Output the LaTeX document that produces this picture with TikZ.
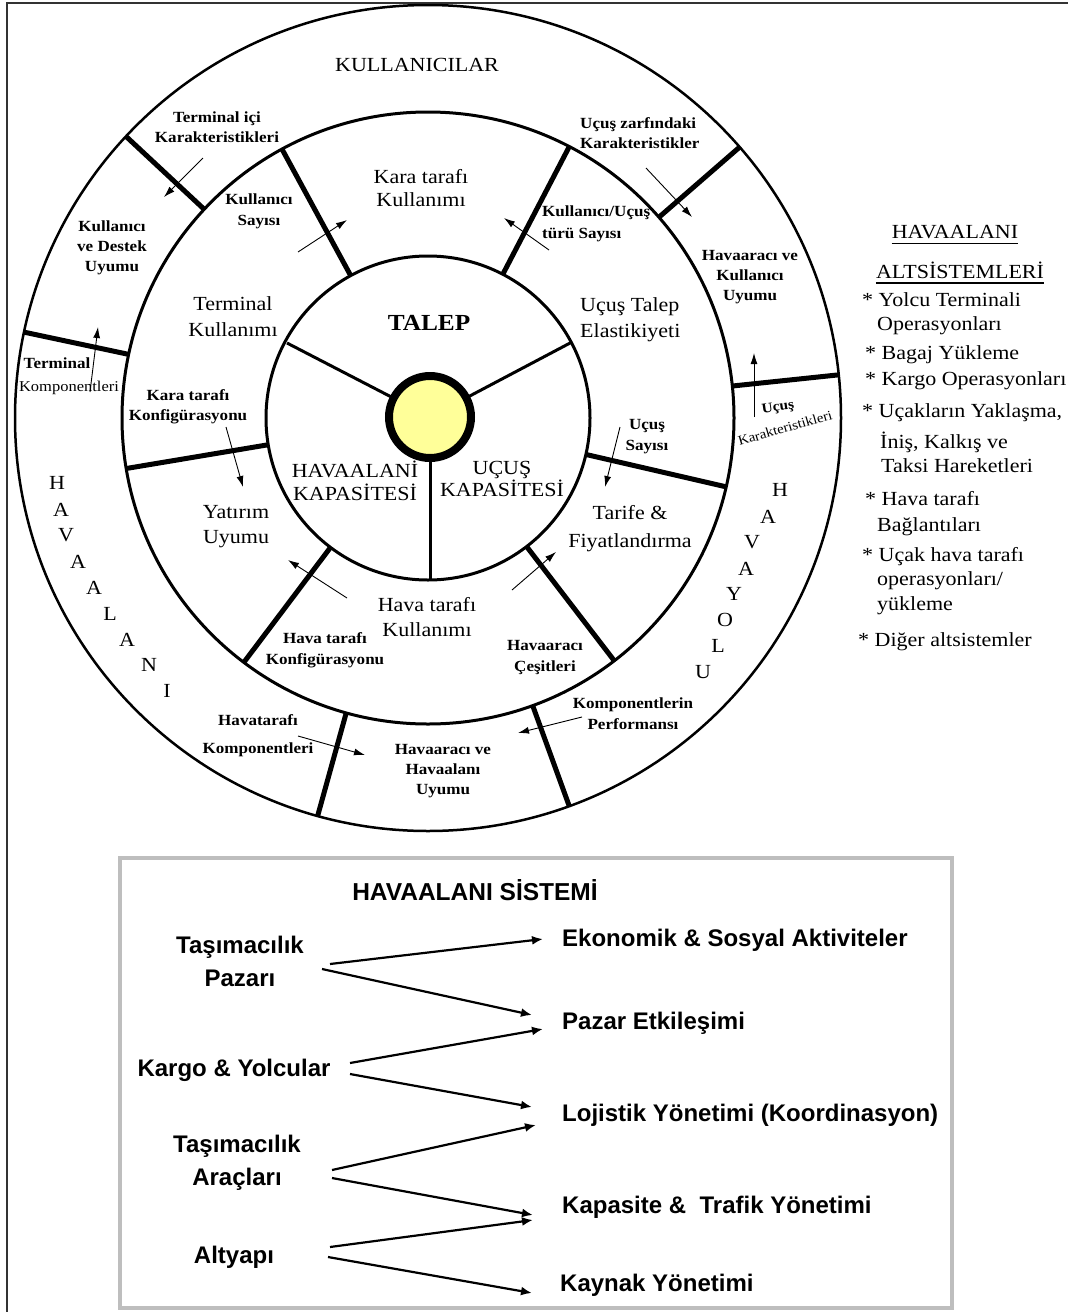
\documentclass[tikz,border=0pt]{standalone}
\usepackage{fontspec}
\setmainfont{Liberation Serif}
\newfontfamily\wideserif[FakeStretch=1.1]{Liberation Serif}
\newfontfamily\boxsans{Liberation Sans}
\usetikzlibrary{arrows.meta}
\definecolor{sunyellow}{RGB}{255,255,153}
\definecolor{boxgray}{RGB}{190,190,190}

\begin{document}
\begin{tikzpicture}[x=1pt,y=-1pt,
  outerline/.style={line width=2.5pt},
  ringline/.style={line width=3pt},
  thickspoke/.style={line width=5pt},
  hubspoke/.style={line width=3pt},
  thinarrow/.style={line width=0.9pt,-{Latex[length=11pt,width=7pt]}},
  boxarrow/.style={line width=2.2pt,-{Latex[length=11pt,width=9pt]}},
  smallbold/.style={font=\wideserif\bfseries\fontsize{15.5}{#1}\selectfont, align=center, inner sep=0pt},
  smallbold/.default=20,
  biglabel/.style={font=\wideserif\fontsize{20}{#1}\selectfont, align=center, inner sep=0pt},
  biglabel/.default=25,
  letter/.style={font=\wideserif\fontsize{20}{24}\selectfont, inner sep=0pt},
  listitem/.style={font=\wideserif\fontsize{20}{24}\selectfont, anchor=west, inner sep=0pt},
  boxtext/.style={font=\boxsans\bfseries\fontsize{24}{33}\selectfont, inner sep=0pt, align=center},
]
\useasboundingbox (0,0) rectangle (1068,1312);

% page frame (top and left edges)
\draw[line width=1.5pt, black!80] (7,1312) -- (7,3) -- (1068,3);

% ---------------- ring diagram ----------------
\coordinate (C) at (428,418);
\coordinate (S) at (430,417);

% thick dividers of the middle ring
\foreach \a in {118.5,62.5,189.5,233,347,307.5}
  \draw[thickspoke] ([shift={(-\a:162)}]C) -- ([shift={(-\a:306)}]C);
% thick dividers of the outer ring
\foreach \a in {137,168,41,6,254.5,290}
  \draw[thickspoke] ([shift={(-\a:306)}]C) -- ([shift={(-\a:413)}]C);

% hub spokes
\draw[hubspoke] (S) -- (287,343);
\draw[hubspoke] (S) -- (572,342);
\draw[hubspoke] (S) -- (430,581);

% circles
\draw[outerline] (C) circle[radius=413];
\draw[ringline] (C) circle[radius=306];
\draw[ringline] (C) circle[radius=162];

% the sun in the middle
\node[circle, draw, line width=8pt, fill=sunyellow, minimum size=82pt, inner sep=0pt] (sun) at (S) {};

% outer ring titles
\node[font=\wideserif\fontsize{20}{24}\selectfont, inner sep=0pt] (users) at (417,65) {KULLANICILAR};

% vertical letters: HAVAALANI
\node[letter] (l1) at (57,483) {H};
\node[letter] (l2) at (61,510) {A};
\node[letter] (l3) at (66,535) {V};
\node[letter] (l4) at (78,562) {A};
\node[letter] (l5) at (94,588) {A};
\node[letter] (l6) at (110,614) {L};
\node[letter] (l7) at (127,640) {A};
\node[letter] (l8) at (149,665) {N};
\node[letter] (l9) at (167,691) {I};
% vertical letters: HAVAYOLU
\node[letter] (r1) at (780,490) {H};
\node[letter] (r2) at (768,517) {A};
\node[letter] (r3) at (752,542) {V};
\node[letter] (r4) at (746,569) {A};
\node[letter] (r5) at (734,594) {Y};
\node[letter] (r6) at (725,620) {O};
\node[letter] (r7) at (718,646) {L};
\node[letter] (r8) at (703,672) {U};

% outer ring labels
\node[smallbold] (tic) at (217,127) {Terminal içi\\Karakteristikleri};
\node[smallbold] (kdu) at (112,248) {Kullanıcı\\ve Destek\\Uyumu};
\node[smallbold, align=left, anchor=west] (uzk) at (580,133) {Uçuş zarfındaki\\Karakteristikler};
\node[smallbold] (hku) at (750,277) {Havaaracı ve\\Kullanıcı\\Uyumu};
\node[smallbold] (term) at (57,363) {Terminal};
\node[font=\wideserif\fontsize{15}{18}\selectfont, inner sep=0pt] (tkomp) at (69,388) {Komponentleri};
\node[font=\wideserif\bfseries\fontsize{14}{16}\selectfont, inner sep=0pt, rotate=8] (ucus) at (778,408) {Uçuş};
\node[font=\wideserif\fontsize{13.5}{16}\selectfont, inner sep=0pt, rotate=16] (ukar) at (785,428) {Karakteristikleri};
\node[smallbold=28] (hkomp) at (258,736) {Havatarafı\\Komponentleri};
\node[smallbold] (hhu) at (443,771) {Havaaracı ve\\Havaalanı\\Uyumu};
\node[smallbold=21] (kperf) at (633,714) {Komponentlerin\\Performansı};

% middle ring labels
\node[biglabel=23] (ktk) at (421,188) {Kara tarafı\\Kullanımı};
\node[biglabel=26] (tk) at (233,317) {Terminal\\Kullanımı};
\node[biglabel=26, align=left, anchor=west] (ute) at (580,320) {Uçuş Talep\\Elastikiyeti};
\node[biglabel=25] (yu) at (236,527) {Yatırım\\Uyumu};
\node[biglabel=28] (tf) at (630,529) {Tarife \&\\Fiyatlandırma};
\node[biglabel=25] (htk) at (427,617) {Hava tarafı\\Kullanımı};
\node[smallbold=21] (ks) at (259,211) {Kullanıcı\\Sayısı};
\node[smallbold=22, align=left, anchor=west] (kus) at (542,224) {Kullanıcı/Uçuş\\türü Sayısı};
\node[smallbold] (ktkonf) at (188,407) {Kara tarafı\\Konfigürasyonu};
\node[smallbold=21] (us) at (647,437) {Uçuş\\Sayısı};
\node[smallbold=21] (hkonf) at (325,650) {Hava tarafı\\Konfigürasyonu};
\node[smallbold=21] (hc) at (545,658) {Havaaracı\\Çeşitleri};

% hub labels
\node[font=\wideserif\bfseries\fontsize{23}{27}\selectfont, inner sep=0pt] (talep) at (429,323) {TALEP};
\node[biglabel=23] (hkap) at (355,481) {HAVAALANİ\\KAPASİTESİ};
\node[biglabel=22] (ukap) at (502,479) {UÇUŞ\\KAPASİTESİ};

% influence arrows inside the rings
\coordinate (a1s) at (203,158);  \coordinate (a1e) at (164,197);
\coordinate (a2s) at (298,252);  \coordinate (a2e) at (347,220);
\coordinate (a3s) at (549,250);  \coordinate (a3e) at (504,218);
\coordinate (a4s) at (646,168);  \coordinate (a4e) at (692,217);
\coordinate (a5s) at (90,392);   \coordinate (a5e) at (98,327);
\coordinate (a6s) at (754,417);  \coordinate (a6e) at (754,353);
\coordinate (a7s) at (226,427);  \coordinate (a7e) at (243,487);
\coordinate (a8s) at (620,427);  \coordinate (a8e) at (605,487);
\coordinate (a9s) at (347,598);  \coordinate (a9e) at (288,560);
\coordinate (a10s) at (512,590); \coordinate (a10e) at (556,552);
\coordinate (a11s) at (298,736); \coordinate (a11e) at (365,755);
\coordinate (a12s) at (582,717); \coordinate (a12e) at (518,733);
\foreach \i in {1,...,12}
  \draw[thinarrow] (a\i s) -- (a\i e);

% ---------------- subsystem list ----------------
\node[font=\wideserif\fontsize{20}{24}\selectfont, inner sep=0pt] (sub1) at (955,232) {HAVAALANI};
\node[font=\wideserif\fontsize{20}{24}\selectfont, inner sep=0pt] (sub2) at (960,270) {ALTSİSTEMLERİ};
\draw[line width=1.6pt] ([yshift=-5pt]sub1.base west) -- ([yshift=-5pt]sub1.base east);
\draw[line width=1.6pt] ([yshift=-5pt]sub2.base west) -- ([yshift=-5pt]sub2.base east);
\node[listitem] (s1) at (862,300) {* Yolcu Terminali};
\node[listitem] (s2) at (877,326) {Operasyonları};
\node[listitem] (s3) at (865,355) {* Bagaj Yükleme};
\node[listitem] (s4) at (865,381) {* Kargo Operasyonları};
\node[listitem] (s5) at (862,413) {* Uçakların Yaklaşma,};
\node[listitem] (s6) at (880,442) {İniş, Kalkış ve};
\node[listitem] (s7) at (881,466) {Taksi Hareketleri};
\node[listitem] (s8) at (865,499) {* Hava tarafı};
\node[listitem] (s9) at (877,527) {Bağlantıları};
\node[listitem] (s10) at (862,557) {* Uçak hava tarafı};
\node[listitem] (s11) at (877,581) {operasyonları/};
\node[listitem] (s12) at (877,606) {yükleme};
\node[listitem] (s13) at (858,642) {* Diğer altsistemler};

% ---------------- airport system box ----------------
\draw[line width=3.5pt, boxgray] (120,858) rectangle (952,1308);
\node[boxtext, font=\boxsans\bfseries\fontsize{24.5}{30}\selectfont] (sys) at (475,890) {HAVAALANI SİSTEMİ};

\node[boxtext] (tpaz) at (240,961) {Taşımacılık\\Pazarı};
\node[boxtext] (kyol) at (234,1070) {Kargo \& Yolcular};
\node[boxtext] (tara) at (237,1163) {Taşımacılık\\Araçları};
\node[boxtext] (alt) at (234,1257) {Altyapı};

\node[boxtext, anchor=west] (eko) at (562,940) {Ekonomik \& Sosyal Aktiviteler};
\node[boxtext, anchor=west] (paz) at (562,1023) {Pazar Etkileşimi};
\node[boxtext, anchor=west] (loj) at (562,1115) {Lojistik Yönetimi (Koordinasyon)};
\node[boxtext, anchor=west] (kap) at (562,1207) {Kapasite \& \ Trafik Yönetimi};
\node[boxtext, anchor=west] (kay) at (560,1285) {Kaynak Yönetimi};

\coordinate (b1s) at (330,964);  \coordinate (b1e) at (543,939);
\coordinate (b2s) at (322,969);  \coordinate (b2e) at (532,1015);
\coordinate (b3s) at (350,1063); \coordinate (b3e) at (543,1029);
\coordinate (b4s) at (350,1074); \coordinate (b4e) at (532,1107);
\coordinate (b5s) at (332,1170); \coordinate (b5e) at (536,1125);
\coordinate (b6s) at (332,1178); \coordinate (b6e) at (533,1215);
\coordinate (b7s) at (330,1247); \coordinate (b7e) at (533,1220);
\coordinate (b8s) at (328,1257); \coordinate (b8e) at (532,1293);
\foreach \i in {1,...,8}
  \draw[boxarrow] (b\i s) -- (b\i e);
\end{tikzpicture}
\end{document}
